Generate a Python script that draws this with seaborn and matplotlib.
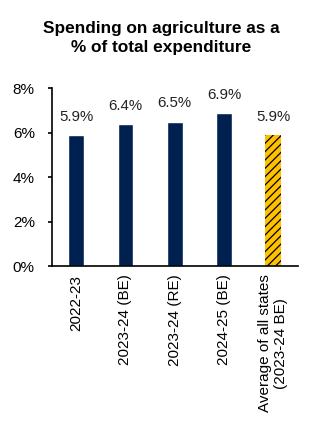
import matplotlib
matplotlib.use("Agg")
import matplotlib.pyplot as plt
import seaborn as sns
import pandas as pd

categories = ["2022-23", "2023-24 (BE)", "2023-24 (RE)", "2024-25 (BE)",
              "Average of all states\n(2023-24 BE)"]
values = [5.9, 6.4, 6.5, 6.9, 5.9]
colors = ["#002050", "#002050", "#002050", "#002050", "#FFC000"]
yticks = [0, 2, 4, 6, 8]
title = "Spending on agriculture as a\n% of total expenditure"

sns.set_theme(style="white")
plt.rcParams['font.family'] = ['Liberation Sans', 'DejaVu Sans']
plt.rcParams['hatch.color'] = 'black'
plt.rcParams['hatch.linewidth'] = 0.9
plt.rcParams['text.color'] = 'black'
plt.rcParams['xtick.color'] = 'black'
plt.rcParams['ytick.color'] = 'black'

df = pd.DataFrame({"cat": categories, "val": values})

fig = plt.figure(figsize=(3.22, 4.30), dpi=100)
ax = fig.add_axes([0.160, 0.381, 0.765, 0.414])
sns.barplot(data=df, x="cat", y="val", hue="cat", palette=colors, legend=False,
            width=0.32, ax=ax, saturation=1)

last = ax.patches[-1]
last.set_hatch("////")
last.set_edgecolor("black")
last.set_linewidth(0)

for p, v in zip(ax.patches, values):
    ax.annotate(f"{v:.1f}%", (p.get_x() + p.get_width() / 2, p.get_height()),
                xytext=(0, 8), textcoords="offset points", ha="center", va="bottom",
                fontsize=10.8, color="#222222", annotation_clip=False)

ax.set_ylim(0, 8)
ax.set_xlim(-0.5, 4.5)
ax.set_yticks(yticks)
ax.set_yticklabels([f"{t}%" for t in yticks], fontsize=11)
ax.set_xticks(range(len(categories)))
ax.set_xticklabels(categories, rotation=90, fontsize=11, ha="center", va="top",
                   multialignment="center")
ax.set_xlabel("")
ax.set_ylabel("")
ax.tick_params(axis="y", direction="out", length=3, width=1.2, color="black", pad=9, left=True)
ax.tick_params(axis="x", length=0, pad=6)
for s in ["top", "right"]:
    ax.spines[s].set_visible(False)
for s in ["left", "bottom"]:
    ax.spines[s].set_color("black")
    ax.spines[s].set_linewidth(1.2)

fig.text(0.5, 0.911, title, ha="center", va="center", fontsize=12.4,
         fontweight="bold", linespacing=1.3, color="black")

fig.savefig("out.png", dpi=100)
